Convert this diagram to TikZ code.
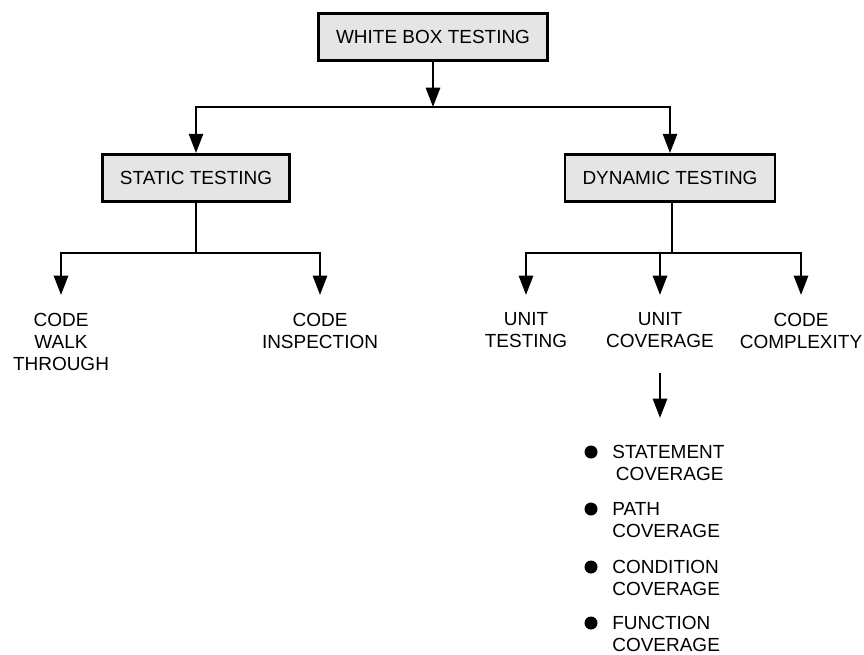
\documentclass[tikz,border=0pt]{standalone}
\usepackage{fontspec}
\setmainfont{Liberation Sans}
\usetikzlibrary{arrows.meta}

\begin{document}
\begin{tikzpicture}[x=0.02cm,y=-0.02cm,
		font=\fontsize{10.8}{12.5}\selectfont,
		box/.style={draw,line width=1.6pt,fill=gray!20,inner xsep=10pt,minimum height=0.94cm},
		leaf/.style={anchor=north,align=center,inner xsep=0pt,inner ysep=10pt},
		item/.style={anchor=north west,align=left,inner sep=0pt},
		dot/.style={circle,fill=black,inner sep=0pt,minimum size=0.26cm},
		conn/.style={line width=1.5pt},
		arrow/.style={conn,-{Triangle[width=8pt,length=11pt]}}]
		\useasboundingbox (0,0) rectangle (864,654);
		% boxes
		\node[box] (white) at (433,37) {WHITE BOX TESTING};
		\node[box] (static) at (196,178) {STATIC TESTING};
		\node[box] (dynamic) at (670,178) {DYNAMIC TESTING};
		\coordinate (top) at (433,107);
		\coordinate (sj) at (196,253);
		\coordinate (dj) at (672,253);
		% leaves
		\node[leaf] (walk) at (61,295) {CODE\\WALK\\THROUGH};
		\node[leaf] (insp) at (320,295) {CODE\\INSPECTION};
		\node[leaf] (unitt) at (526,295) {UNIT\\TESTING};
		\node[leaf] (cover) at (660,295) {UNIT\\COVERAGE};
		\node[leaf] (cplx) at (801,295) {CODE\\COMPLEXITY};
		\coordinate (covtip) at (660,418);
		% coverage list
		\node[dot] (d1) at (591,452) {};
		\node[item] (stmt) at (612,445) {STATEMENT\\\hspace*{2pt}COVERAGE};
		\node[dot] (d2) at (591,509) {};
		\node[item] (path) at (612,502) {PATH\\COVERAGE};
		\node[dot] (d3) at (591,567) {};
		\node[item] (cond) at (612,560) {CONDITION\\COVERAGE};
		\node[dot] (d4) at (591,623) {};
		\node[item] (func) at (612,616) {FUNCTION\\COVERAGE};
		% connectors
		\draw[arrow] (white) -- (top);
		\draw[arrow] (top) -| (static.north);
		\draw[arrow] (top) -| (dynamic.north);
		\draw[conn] (static) -- (sj);
		\draw[arrow] (sj) -| (walk.north);
		\draw[arrow] (sj) -| (insp.north);
		\draw[conn] (dynamic.south -| dj) -- (dj);
		\draw[arrow] (dj) -| (unitt.north);
		\draw[arrow] (dj) -| (cover.north);
		\draw[arrow] (dj) -| (cplx.north);
		\draw[arrow,shorten <=4pt] (cover.south) -- (covtip);
	\end{tikzpicture}
\end{document}
